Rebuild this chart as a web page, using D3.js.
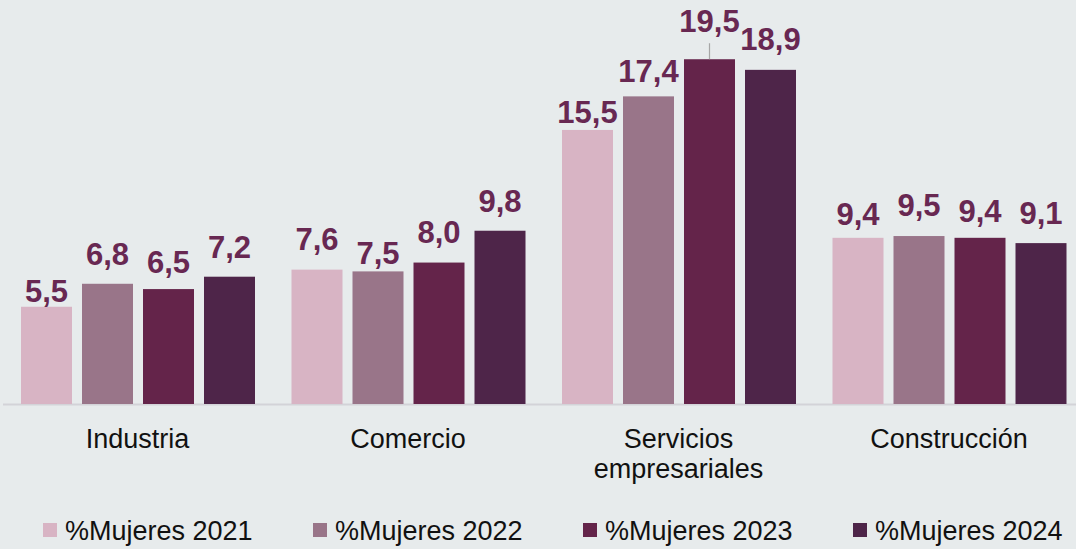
<!DOCTYPE html>
<html lang="es">
<head>
<meta charset="utf-8">
<title>% Mujeres por sector</title>
<script src="https://cdn.jsdelivr.net/npm/d3@7"></script>
<style>
  html, body { margin: 0; padding: 0; background: #E7EBEC; }
  svg { display: block; font-family: "Liberation Sans", Arial, sans-serif; }
</style>
</head>
<body>
<svg id="chart" width="1076" height="549"></svg>
<script>
// Sectors (x axis); multi-line labels split on "\n"
const categories = ["Industria", "Comercio", "Servicios\nempresariales", "Construcción"];
const seriesNames = ["%Mujeres 2021", "%Mujeres 2022", "%Mujeres 2023", "%Mujeres 2024"];

// Share of women per sector and year (%)
const values2021 = [5.5, 7.6, 15.5, 9.4];
const values2022 = [6.8, 7.5, 17.4, 9.5];
const values2023 = [6.5, 8.0, 19.5, 9.4];
const values2024 = [7.2, 9.8, 18.9, 9.1];

const seriesValues = [values2021, values2022, values2023, values2024];
const seriesColors = ["#D8B4C4", "#997589", "#64244A", "#4E2549"];

// Distance (px) between each value label's baseline and the top of its bar,
// per sector then per year; the 2023 services label sits on a leader line.
const labelGap = [
  [5, 19, 16, 19],
  [20, 7, 20, 19],
  [7, 14, 27, 20],
  [13, 20, 16, 19]
];
const leaderLabel = { cat: 2, series: 2 };

const svg = d3.select("#chart");
const W = 1076, H = 549;
svg.append("rect").attr("width", W).attr("height", H).attr("fill", "#E7EBEC");

const baseY = 404;
const y = d3.scaleLinear().domain([0, 20]).range([baseY, baseY - 353.6]);

const x0 = d3.scaleBand().domain(d3.range(categories.length)).range([2.25, 1084.25]);
const x1 = d3.scaleBand().domain(d3.range(seriesNames.length))
  .range([18.75, 252.75]).paddingInner(10 / 61).paddingOuter(0);

const rows = categories.map((c, ci) => seriesNames.map((s, si) => ({
  ci, si, value: seriesValues[si][ci]
})));

// Baseline
svg.append("line")
  .attr("x1", 3).attr("x2", W).attr("y1", baseY + 0.5).attr("y2", baseY + 0.5)
  .attr("stroke", "#D3D3D8").attr("stroke-width", 2);

const groups = svg.selectAll("g.sector").data(rows).join("g")
  .attr("class", "sector")
  .attr("transform", (d, i) => `translate(${x0(i)},0)`);

groups.selectAll("rect").data(d => d).join("rect")
  .attr("x", d => x1(d.si))
  .attr("width", x1.bandwidth())
  .attr("y", d => y(d.value))
  .attr("height", d => baseY - y(d.value))
  .attr("fill", d => seriesColors[d.si]);

const fmt = v => d3.format(".1f")(v).replace(".", ",");

groups.selectAll("line.leader")
  .data(d => d.filter(e => e.ci === leaderLabel.cat && e.si === leaderLabel.series))
  .join("line")
  .attr("class", "leader")
  .attr("x1", d => x1(d.si) + x1.bandwidth() / 2)
  .attr("x2", d => x1(d.si) + x1.bandwidth() / 2)
  .attr("y1", d => y(d.value) - labelGap[d.ci][d.si] + 11)
  .attr("y2", d => y(d.value))
  .attr("stroke", "#A6A6A6").attr("stroke-width", 1.2);

groups.selectAll("text.val").data(d => d).join("text")
  .attr("class", "val")
  .attr("x", d => x1(d.si) + x1.bandwidth() / 2)
  .attr("y", d => y(d.value) - labelGap[d.ci][d.si])
  .attr("text-anchor", "middle")
  .attr("font-size", 31).attr("font-weight", "bold")
  .attr("fill", "#682852")
  .text(d => fmt(d.value));

// Category labels
svg.selectAll("text.cat").data(categories).join("text")
  .attr("class", "cat")
  .attr("x", (d, i) => x0(i) + x0.bandwidth() / 2)
  .attr("y", 448)
  .attr("text-anchor", "middle")
  .attr("font-size", 27).attr("fill", "#111")
  .each(function (d) {
    const t = d3.select(this);
    d.split("\n").forEach((line, k) => {
      t.append("tspan")
        .attr("x", t.attr("x"))
        .attr("dy", k === 0 ? 0 : 30)
        .text(line);
    });
  });

// Legend
const legend = svg.selectAll("g.legend").data(seriesNames).join("g")
  .attr("class", "legend")
  .attr("transform", (d, i) => `translate(${43 + i * 270},0)`);
legend.append("rect")
  .attr("x", 0).attr("y", 523).attr("width", 14).attr("height", 14)
  .attr("fill", (d, i) => seriesColors[i]);
legend.append("text")
  .attr("x", 22).attr("y", 540)
  .attr("font-size", 27).attr("fill", "#111")
  .text(d => d);
</script>
</body>
</html>
